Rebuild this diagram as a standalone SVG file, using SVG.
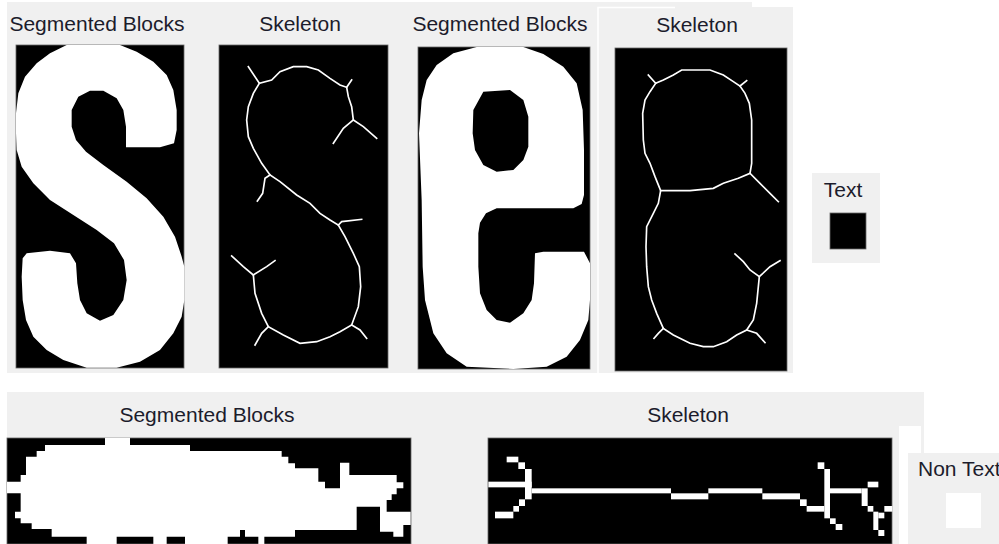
<svg xmlns="http://www.w3.org/2000/svg" width="999" height="544" viewBox="0 0 999 544">
<style>
.panel{fill:#f0f0f0}
.img{fill:#000;stroke:#666;stroke-width:0.8}
.lbl{font-family:"Liberation Sans",Arial,sans-serif;font-size:21px;fill:#1c1c2c}
.sk{fill:none;stroke:#fff;stroke-width:5;stroke-linejoin:miter;stroke-linecap:square}
.w{fill:#fff}
</style>
<rect width="999" height="544" fill="#fff"/>
<g id="top-background">
<rect class="panel" x="7" y="2" width="745" height="371"/>
</g>
<g id="seg-blocks-1">
<text class="lbl" x="97" y="31" text-anchor="middle">Segmented Blocks</text>
<rect class="img" x="16" y="45" width="168" height="323"/>
<g transform="scale(0.33333)">
<polygon class="w" points="200,135 360,135 410,155 460,185 500,225 520,270 530,330 530,390 522,430 480,442 378,442 378,380 370,330 350,295 310,272 270,272 235,290 215,330 215,380 228,420 258,455 310,495 380,545 440,595 490,650 525,710 545,770 553,800 553,900 545,950 520,1000 480,1050 420,1085 350,1103 260,1103 190,1080 140,1050 100,1010 78,960 68,900 65,830 68,775 80,760 150,752 210,760 228,790 232,850 240,900 260,940 300,962 340,945 370,900 380,840 372,780 342,730 290,690 220,645 150,600 100,550 65,500 50,450 48,400 48,340 55,280 75,230 110,190 150,160"/>
</g>
</g>
<g id="skeleton-1">
<text class="lbl" x="300" y="31" text-anchor="middle">Skeleton</text>
<rect class="img" x="219" y="45" width="169" height="323"/>
<g transform="translate(200,0) scale(0.33333)">
<polyline class="sk" points="145,200 178,250 215,240 240,215 280,200 320,200 355,210 390,235 420,255 440,262 445,290 455,320 460,360 430,385 400,430"/>
<polyline class="sk" points="440,262 455,240"/>
<polyline class="sk" points="460,360 490,380 530,415"/>
<polyline class="sk" points="178,250 160,280 145,320 140,360 145,410 160,445 185,490 210,525 240,545 290,585 330,610 360,640 390,660 415,675 435,710 460,760 478,800 482,860 475,920 455,975 420,995 390,1010 350,1025 300,1030 250,1005 205,980 185,940 165,880 160,825 130,800 95,768"/>
<polyline class="sk" points="210,525 195,535 188,580 172,603"/>
<polyline class="sk" points="415,675 425,665 485,658"/>
<polyline class="sk" points="455,975 480,990 500,1015"/>
<polyline class="sk" points="205,980 185,1000 165,1035"/>
<polyline class="sk" points="160,825 200,800 225,782"/>
</g>
</g>
<g id="seg-blocks-2">
<text class="lbl" x="500" y="31" text-anchor="middle">Segmented Blocks</text>
<rect class="img" x="418" y="47" width="172" height="322"/>
<g transform="translate(400,0) scale(0.33333)">
<path class="w" fill-rule="evenodd" d="M230,141 L370,141 430,162 490,200 530,250 548,330 552,450 552,585 545,612 520,625 290,625 258,640 240,668 235,700 235,800 240,880 260,930 290,960 330,968 370,940 395,900 402,850 405,760 430,755 552,755 570,790 570,900 565,960 540,1020 500,1070 440,1100 340,1107 200,1100 140,1060 100,1000 75,900 68,800 65,600 57,400 65,300 80,240 110,195 160,160 Z M250,275 L330,270 370,300 385,350 385,440 370,480 340,510 290,515 250,495 225,450 218,400 220,330 Z"/>
</g>
</g>
<g id="skeleton-2">
<rect class="panel" x="597" y="7" width="196" height="366"/>
<path d="M598,373 V7.5 H675" fill="none" stroke="#fff" stroke-width="1.5"/>
<text class="lbl" x="697" y="32" text-anchor="middle">Skeleton</text>
<rect class="img" x="615" y="48" width="172" height="323"/>
<g transform="translate(590,0) scale(0.33333)">
<polyline class="sk" points="175,225 197,250 220,240 250,225 275,210 360,210 400,225 430,245 450,258 465,280 478,310 485,360 485,490 480,520 445,535 400,550 370,565 300,572 212,572"/>
<polyline class="sk" points="450,258 470,242"/>
<polyline class="sk" points="480,520 510,550 540,580 565,605"/>
<polyline class="sk" points="197,250 180,275 165,300 158,340 160,420 165,460 180,490 195,530 212,572 205,610 190,640 170,680 168,740 170,800 175,860 185,900 200,940 220,985 250,1005 300,1030 340,1040 370,1040 410,1025 440,1005 470,990 490,960 500,910 505,860 508,830 480,810 460,785 435,762"/>
<polyline class="sk" points="220,985 205,1000 192,1015"/>
<polyline class="sk" points="470,990 500,1000 525,1028"/>
<polyline class="sk" points="508,830 540,800 570,782"/>
</g>
</g>
<g id="text-result">
<rect class="panel" x="812" y="173" width="68" height="90"/>
<text class="lbl" x="843" y="197" text-anchor="middle">Text</text>
<rect class="img" x="830" y="213" width="36" height="36"/>
</g>
<g id="bottom-background">
<rect class="panel" x="7" y="392" width="917" height="152"/>
<rect x="899" y="426" width="22" height="118" fill="#fff"/>
</g>
<g id="seg-blocks-3">
<text class="lbl" x="207" y="422" text-anchor="middle">Segmented Blocks</text>
<rect class="img" x="7" y="438" width="404" height="106"/>
<g transform="translate(0,385) scale(0.33333)">
<polygon class="w" points="135,180 315,180 315,158 390,158 390,180 570,180 570,198 845,198 845,215 865,215 865,235 885,235 885,250 955,250 955,290 975,290 975,310 1020,310 1020,233 1048,233 1048,270 1190,270 1190,292 1210,292 1210,310 1190,310 1190,328 1175,328 1175,345 1160,345 1160,380 1232,380 1232,420 1210,420 1210,455 1180,455 1180,440 1140,440 1140,365 1070,365 1070,435 885,435 885,455 793,455 793,477 775,477 775,455 735,455 735,435 720,435 720,455 683,455 683,477 555,477 555,455 500,455 500,477 460,477 460,455 350,455 350,477 260,477 260,455 155,455 155,432 95,432 95,415 62,415 62,400 45,400 45,380 62,380 62,325 21,325 21,290 62,290 62,270 78,270 78,215 110,215 110,198 135,198"/>
</g>
</g>
<g id="skeleton-3">
<text class="lbl" x="688" y="422" text-anchor="middle">Skeleton</text>
<rect class="img" x="488" y="438" width="404" height="106"/>
<g class="w" transform="translate(485,430) scale(0.33333)">
<rect x="65" y="80" width="35" height="17"/>
<rect x="100" y="97" width="20" height="20"/>
<rect x="120" y="117" width="20" height="91"/>
<rect x="10" y="155" width="130" height="17"/>
<rect x="140" y="175" width="418" height="15"/>
<rect x="558" y="190" width="112" height="18"/>
<rect x="670" y="175" width="162" height="15"/>
<rect x="832" y="190" width="113" height="18"/>
<rect x="945" y="208" width="20" height="20"/>
<rect x="965" y="228" width="53" height="17"/>
<rect x="998" y="97" width="20" height="20"/>
<rect x="1018" y="117" width="17" height="148"/>
<rect x="1035" y="175" width="95" height="15"/>
<rect x="1130" y="175" width="18" height="53"/>
<rect x="1148" y="155" width="32" height="17"/>
<rect x="1148" y="228" width="17" height="17"/>
<rect x="1165" y="245" width="15" height="55"/>
<rect x="1180" y="248" width="18" height="17"/>
<rect x="1198" y="228" width="24" height="17"/>
<rect x="1180" y="300" width="18" height="18"/>
<rect x="1035" y="265" width="17" height="17"/>
<rect x="1052" y="282" width="20" height="18"/>
<rect x="102" y="208" width="18" height="20"/>
<rect x="85" y="228" width="17" height="17"/>
<rect x="30" y="245" width="55" height="20"/>
</g>
</g>
<g id="non-text-result">
<rect class="panel" x="908" y="453" width="91" height="91"/>
<text class="lbl" x="918" y="476">Non Text</text>
<rect x="946" y="493" width="35" height="35" fill="#fff"/>
</g>
</svg>
